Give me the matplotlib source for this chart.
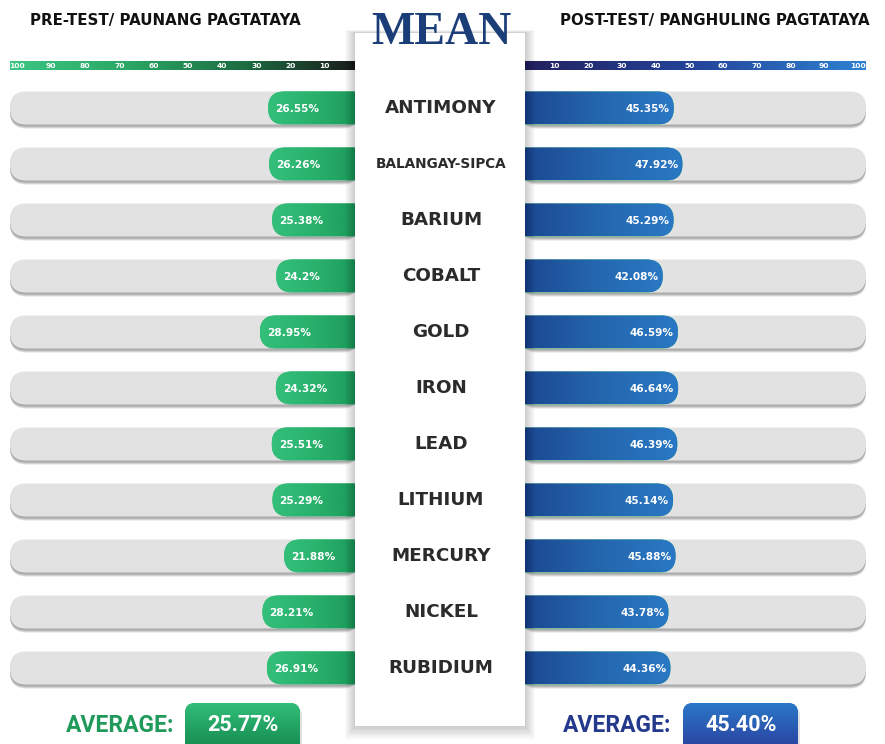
import numpy as np
import matplotlib
matplotlib.use("Agg")
import matplotlib.pyplot as plt
from matplotlib.patches import FancyBboxPatch, Rectangle
from matplotlib.colors import LinearSegmentedColormap

W, H = 885, 744

# data
schools = ["ANTIMONY", "BALANGAY-SIPCA", "BARIUM", "COBALT", "GOLD", "IRON",
           "LEAD", "LITHIUM", "MERCURY", "NICKEL", "RUBIDIUM"]
pre_test = [26.55, 26.26, 25.38, 24.2, 28.95, 24.32, 25.51, 25.29, 21.88, 28.21, 26.91]
post_test = [45.35, 47.92, 45.29, 42.08, 46.59, 46.64, 46.39, 45.14, 45.88, 43.78, 44.36]
pre_labels = ["26.55%", "26.26%", "25.38%", "24.2%", "28.95%", "24.32%", "25.51%",
              "25.29%", "21.88%", "28.21%", "26.91%"]
post_labels = ["45.35%", "47.92%", "45.29%", "42.08%", "46.59%", "46.64%", "46.39%",
               "45.14%", "45.88%", "43.78%", "44.36%"]
scale_ticks = [10, 20, 30, 40, 50, 60, 70, 80, 90, 100]
pre_avg = "25.77%"
post_avg = "45.40%"

green_bar = LinearSegmentedColormap.from_list("gb", ["#1c985a", "#29b16c", "#33c07b"])
blue_bar = LinearSegmentedColormap.from_list("bb", ["#1b4690", "#2466ae", "#2a78c4"])
green_scale = LinearSegmentedColormap.from_list("gs", ["#1a1a1a", "#1d6e43", "#2aa866", "#3cc583"])
blue_scale = LinearSegmentedColormap.from_list("bs", ["#24205e", "#23449a", "#2f82d2"])

fig = plt.figure(figsize=(W / 100, H / 100), dpi=100)
fig.patch.set_facecolor("white")


def pix_axes(z):
    a = fig.add_axes([0, 0, 1, 1], zorder=z)
    a.set_xlim(0, W)
    a.set_ylim(H, 0)
    a.axis("off")
    a.patch.set_alpha(0)
    return a


bg = pix_axes(0)
axL = fig.add_axes([10 / W, 0, 349 / W, 1], zorder=1)
axR = fig.add_axes([521 / W, 0, 345 / W, 1], zorder=1)
top = pix_axes(3)

row_y = [108 + i * 56 for i in range(len(schools))]
bh = 33


def grad(ax, x0, x1, y0, y1, cmap, clip=None, z=3):
    g = np.linspace(0, 1, 256).reshape(1, -1)
    im = ax.imshow(g, extent=[x0, x1, y1, y0], aspect="auto", cmap=cmap,
                   interpolation="bicubic", zorder=z)
    if clip is not None:
        im.set_clip_path(clip)
    return im


def draw_side(ax, xmax, values, labels, cmap, scmap, side):
    ax.axis("off")
    ax.patch.set_alpha(0)
    sx = ax.bbox.width / xmax  # pixels per value unit
    r = 16
    # scale strip
    grad(ax, 0, xmax, 61, 70, scmap, z=2)
    for t in scale_ticks:
        ax.text(t, 66, str(t), color="white", fontsize=5.4, fontweight="bold",
                ha="center", va="center", zorder=4)
    for yc, v, lab in zip(row_y, values, labels):
        for k, a in [(4, 0.25), (3, 0.35), (2, 0.45)]:
            ax.add_patch(FancyBboxPatch((0, yc - bh / 2 + k), xmax, bh,
                                        boxstyle=f"round,pad=0,rounding_size={r / sx}",
                                        mutation_aspect=sx, fc="#8e8e8e", ec="none",
                                        alpha=a, zorder=1))
        tr = FancyBboxPatch((0, yc - bh / 2), xmax, bh,
                            boxstyle=f"round,pad=0,rounding_size={r / sx}",
                            mutation_aspect=sx, fc="#e2e2e2", ec="none", zorder=2)
        ax.add_patch(tr)
        bar = FancyBboxPatch((-8, yc - bh / 2), v + 8, bh,
                             boxstyle=f"round,pad=0,rounding_size={r / sx}",
                             mutation_aspect=sx, fc="#2ab46e", ec="none", zorder=3)
        ax.add_patch(bar)
        grad(ax, 0, v, yc - bh / 2, yc + bh / 2, cmap, clip=bar, z=3)
        if side == "L":
            ax.text(v - 7 / sx, yc + 1, lab, color="white", fontsize=7.6,
                    fontweight="bold", ha="left", va="center", zorder=5)
        else:
            ax.text(v - 4 / sx, yc + 1, lab, color="white", fontsize=7.6,
                    fontweight="bold", ha="right", va="center", zorder=5)
    ax.set_xlim(xmax, 0) if side == "L" else ax.set_xlim(0, xmax)
    ax.set_ylim(H, 0)


draw_side(axL, 102, pre_test, pre_labels, green_bar, green_scale, "L")
draw_side(axR, 102.4, post_test, post_labels, blue_bar, blue_scale, "R")

# headings
bg.text(30, 20, "PRE-TEST/ PAUNANG PAGTATAYA", fontsize=10.8, fontweight="bold",
        color="#111111", ha="left", va="center")
bg.text(870, 20, "POST-TEST/ PANGHULING PAGTATAYA", fontsize=10.8, fontweight="bold",
        color="#111111", ha="right", va="center")

# centre panel with soft shadow
for k in range(10, 0, -1):
    top.add_patch(Rectangle((355 - k, 33 - k * 0.3), 170 + 2 * k, 693 + k * 1.6,
                            fc="#000000", ec="none", alpha=0.02, zorder=1))
top.add_patch(Rectangle((355, 33), 170, 693, fc="white", ec="none", zorder=2))
top.text(441, 33, "MEAN", family="Liberation Serif", fontweight="bold",
         fontsize=33, color="#1b3e78", ha="center", va="center", zorder=4)
for yc, name in zip(row_y, schools):
    fs = 9.8 if len(name) > 10 else 13.2
    top.text(441, yc, name, fontsize=fs, fontweight="bold", color="#2b2b2b",
             ha="center", va="center", zorder=4)

# averages
bg.text(120, 726, "AVERAGE:", family="Roboto", fontweight="bold", fontsize=16.5,
        color="#1f9a5a", ha="center", va="center")
bg.text(617, 726, "AVERAGE:", family="Roboto", fontweight="bold", fontsize=16.5,
        color="#23398c", ha="center", va="center")
green_box = LinearSegmentedColormap.from_list("gx", ["#31be78", "#13864c"])
blue_box = LinearSegmentedColormap.from_list("bx", ["#2a78c8", "#2b3c9c"])
for x0, cm, txt in [(185, green_box, pre_avg), (683, blue_box, post_avg)]:
    shd = FancyBboxPatch((x0 + 2, 706), 115, 50, boxstyle="round,pad=0,rounding_size=10",
                         fc="#000000", ec="none", alpha=0.12, zorder=1)
    bg.add_patch(shd)
    box = FancyBboxPatch((x0, 703), 115, 50, boxstyle="round,pad=0,rounding_size=10",
                         fc=cm(0.5), ec="none", zorder=2)
    bg.add_patch(box)
    g = np.linspace(0, 1, 128).reshape(-1, 1)
    im = bg.imshow(g, extent=[x0, x0 + 115, 753, 703], aspect="auto", cmap=cm, zorder=2)
    im.set_clip_path(box)
    bg.text(x0 + 58, 725, txt, family="Roboto", fontweight="bold", fontsize=15.5,
            color="white", ha="center", va="center", zorder=3)
bg.set_xlim(0, W)
bg.set_ylim(H, 0)

fig.savefig("out.png", dpi=100, facecolor="white")
